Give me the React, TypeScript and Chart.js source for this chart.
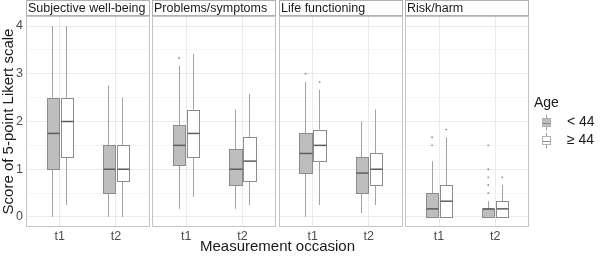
import React, { useEffect, useRef } from 'react';
import { Chart, registerables } from 'chart.js';

Chart.register(...registerables);

// ---------- data ----------
const panels = ['Subjective well-being', 'Problems/symptoms', 'Life functioning', 'Risk/harm'];
const occasions = ['t1', 't2'];
const groups = ['< 44', '≥ 44'];
// cells in order: panel1 t1, panel1 t2, panel2 t1, panel2 t2, ...
const youngLow = [0, 0, 0.17, 0.17, 0, 0.08, 0, 0];
const youngQ1 = [1.0, 0.5, 1.08, 0.67, 0.92, 0.5, 0, 0];
const youngMedian = [1.75, 1.0, 1.5, 1.0, 1.33, 0.92, 0.17, 0.17];
const youngQ3 = [2.5, 1.5, 1.92, 1.42, 1.75, 1.25, 0.5, 0.17];
const youngHigh = [4.0, 2.75, 3.17, 2.25, 2.83, 2.0, 1.17, 0.33];
const youngOutlierCell = [2, 4, 6, 6, 7, 7, 7, 7, 7];
const youngOutlierValue = [3.33, 3.0, 1.5, 1.67, 0.5, 0.67, 0.83, 1.0, 1.5];

const oldLow = [0.25, 0, 0.42, 0.25, 0.25, 0.25, 0, 0];
const oldQ1 = [1.25, 0.75, 1.25, 0.75, 1.17, 0.67, 0, 0];
const oldMedian = [2.0, 1.0, 1.75, 1.17, 1.5, 1.0, 0.33, 0.17];
const oldQ3 = [2.5, 1.5, 2.25, 1.67, 1.83, 1.33, 0.67, 0.33];
const oldHigh = [4.0, 2.5, 3.42, 2.58, 2.67, 2.25, 1.67, 0.67];
const oldOutlierCell = [4, 6, 7];
const oldOutlierValue = [2.83, 1.83, 0.83];

const yTickValues = [0, 0.5, 1, 1.5, 2, 2.5, 3, 3.5, 4];

// ---------- layout (x units) ----------
const PANEL_W = 2.2;
const GAP = 0.05;
const EXPAND = 0.6;
const DODGE = 0.125;
const HALF_W = 0.11;
const FONT = '"Liberation Sans", Arial, sans-serif';

const panelStart = (p: number) => p * (PANEL_W + GAP);
const cellX = (cell: number) => panelStart(Math.floor(cell / 2)) + EXPAND + (cell % 2);

const series = [
  { name: groups[0], low: youngLow, q1: youngQ1, med: youngMedian, q3: youngQ3, high: youngHigh, outCell: youngOutlierCell, outVal: youngOutlierValue, fill: '#bebebe', offset: -DODGE },
  { name: groups[1], low: oldLow, q1: oldQ1, med: oldMedian, q3: oldQ3, high: oldHigh, outCell: oldOutlierCell, outVal: oldOutlierValue, fill: '#ffffff', offset: DODGE },
];

const EDGE = '#8c8c8c';
const MEDIAN = '#5e5e5e';
const WHISKER = '#a3a3a3';

const snap = (v: number) => Math.round(v) + 0.5;

const panelPlugin = {
  id: 'panels',
  beforeDatasetsDraw(chart: any) {
    const { ctx, chartArea, scales } = chart;
    const xs = scales.x;
    ctx.save();
    ctx.fillStyle = '#ffffff';
    for (let p = 0; p < panels.length - 1; p++) {
      const r = xs.getPixelForValue(panelStart(p) + PANEL_W);
      const l = xs.getPixelForValue(panelStart(p + 1));
      ctx.fillRect(r, chartArea.top, l - r, chartArea.bottom - chartArea.top);
    }
    ctx.lineWidth = 1;
    for (let p = 0; p < panels.length; p++) {
      const l = Math.round(xs.getPixelForValue(panelStart(p)));
      const r = Math.round(xs.getPixelForValue(panelStart(p) + PANEL_W));
      ctx.strokeStyle = '#c4c4c4';
      ctx.strokeRect(l + 0.5, Math.round(chartArea.top) + 0.5, r - l - 1, Math.round(chartArea.bottom - chartArea.top) - 1);
      ctx.fillStyle = '#ffffff';
      ctx.fillRect(l, 0, r - l, chartArea.top);
      ctx.strokeStyle = '#b0b0b0';
      ctx.strokeRect(l + 0.5, 0.5, r - l - 1, Math.round(chartArea.top) - 1);
      ctx.fillStyle = '#1a1a1a';
      ctx.font = `12.5px ${FONT}`;
      ctx.textAlign = 'left';
      ctx.textBaseline = 'middle';
      ctx.fillText(panels[p], l + 2, chartArea.top / 2 + 0.5);
    }
    ctx.restore();
  },
  afterDatasetsDraw(chart: any) {
    const { ctx, scales } = chart;
    const xs = scales.x;
    const ys = scales.y;
    const hw = xs.getPixelForValue(HALF_W) - xs.getPixelForValue(0);
    ctx.save();
    ctx.lineWidth = 1;
    for (const s of series) {
      for (let c = 0; c < s.med.length; c++) {
        const cx = xs.getPixelForValue(cellX(c) + s.offset);
        const yLow = ys.getPixelForValue(s.low[c]);
        const yQ1 = ys.getPixelForValue(s.q1[c]);
        const yMed = ys.getPixelForValue(s.med[c]);
        const yQ3 = ys.getPixelForValue(s.q3[c]);
        const yHigh = ys.getPixelForValue(s.high[c]);
        const xm = snap(cx - 0.5);
        ctx.strokeStyle = WHISKER;
        ctx.beginPath();
        ctx.moveTo(xm, yHigh);
        ctx.lineTo(xm, yQ3);
        ctx.moveTo(xm, yQ1);
        ctx.lineTo(xm, yLow);
        ctx.stroke();
        const l = snap(cx - hw);
        const r = snap(cx + hw);
        const t = Math.round(yQ3) + 0.5;
        const b = Math.round(yQ1) + 0.5;
        ctx.fillStyle = s.fill;
        ctx.fillRect(l, t, r - l, b - t);
        ctx.strokeStyle = EDGE;
        ctx.strokeRect(l, t, r - l, b - t);
        ctx.strokeStyle = MEDIAN;
        ctx.lineWidth = 1.5;
        ctx.beginPath();
        ctx.moveTo(l, yMed);
        ctx.lineTo(r, yMed);
        ctx.stroke();
        ctx.lineWidth = 1;
      }
    }
    ctx.restore();
  },
  afterDraw(chart: any) {
    const { ctx } = chart;
    ctx.save();
    ctx.font = `14px ${FONT}`;
    ctx.fillStyle = '#1a1a1a';
    ctx.textAlign = 'left';
    ctx.textBaseline = 'middle';
    ctx.fillText('Age', 534, 103);
    const rows = [122.5, 140.5];
    series.forEach((s, i) => {
      const y = rows[i];
      const cx = 546.5;
      ctx.strokeStyle = WHISKER;
      ctx.lineWidth = 1;
      ctx.beginPath();
      ctx.moveTo(cx, y - 8);
      ctx.lineTo(cx, y + 8);
      ctx.stroke();
      ctx.fillStyle = s.fill;
      ctx.fillRect(542.5, y - 4, 8, 8);
      ctx.strokeStyle = '#b0b0b0';
      ctx.strokeRect(542.5, y - 4, 8, 8);
      ctx.strokeStyle = '#8c8c8c';
      ctx.beginPath();
      ctx.moveTo(542.5, Math.round(y) + 0.5);
      ctx.lineTo(550.5, Math.round(y) + 0.5);
      ctx.stroke();
      ctx.fillStyle = '#1a1a1a';
      ctx.font = `14px ${FONT}`;
      ctx.fillText(s.name, 567, y);
    });
    ctx.restore();
  },
};

const tickPositions: number[] = [];
for (let c = 0; c < panels.length * occasions.length; c++) tickPositions.push(cellX(c));

export default function App() {
  const ref = useRef<HTMLCanvasElement>(null);
  useEffect(() => {
    if (!ref.current) return;
    const chart = new Chart(ref.current, {
      type: 'scatter',
      data: {
        datasets: series.map((s) => ({
          label: s.name,
          data: s.outCell.map((c, i) => ({ x: cellX(c) + s.offset, y: s.outVal[i] })),
          pointRadius: 0.9,
          pointHoverRadius: 0.9,
          pointBackgroundColor: '#8c8c8c',
          pointBorderWidth: 0,
        })),
      },
      plugins: [panelPlugin],
      options: {
        responsive: false,
        animation: false,
        events: [],
        layout: { padding: { top: 16, right: 71, left: 0, bottom: 0 } },
        plugins: { legend: { display: false }, tooltip: { enabled: false } },
        scales: {
          x: {
            type: 'linear',
            min: 0,
            max: panelStart(panels.length - 1) + PANEL_W,
            afterBuildTicks: (s: any) => {
              s.ticks = tickPositions.map((v) => ({ value: v }));
            },
            afterFit: (s: any) => {
              s.height = 31;
            },
            ticks: {
              autoSkip: false,
              maxRotation: 0,
              padding: 2,
              color: '#4d4d4d',
              font: { family: FONT, size: 12.5 },
              callback: (_v: any, i: number) => occasions[i % occasions.length],
            },
            grid: { color: '#ebebeb', drawTicks: false },
            border: { display: false },
            title: {
              display: true,
              text: 'Measurement occasion',
              color: '#1a1a1a',
              font: { family: FONT, size: 15 },
              padding: { top: 0, bottom: 2 },
            },
          },
          y: {
            min: -0.21,
            max: 4.21,
            afterBuildTicks: (s: any) => {
              s.ticks = yTickValues.map((v) => ({ value: v }));
            },
            afterFit: (s: any) => {
              s.width = 26;
            },
            ticks: {
              padding: 3,
              color: '#4d4d4d',
              font: { family: FONT, size: 12.5 },
              callback: (v: any) => (Number.isInteger(v) ? String(v) : ''),
            },
            grid: {
              drawTicks: false,
              color: (ctx: any) => (Number.isInteger(ctx.tick?.value) ? '#ebebeb' : '#f5f5f5'),
            },
            border: { display: false },
            title: {
              display: true,
              text: 'Score of 5-point Likert scale',
              color: '#1a1a1a',
              font: { family: FONT, size: 15 },
              padding: { top: 0, bottom: 0 },
            },
          },
        },
      },
    });
    return () => chart.destroy();
  }, []);
  return (
    <div style={{ position: 'fixed', left: 0, top: 0, width: 600, height: 258, background: '#fff' }}>
      <canvas ref={ref} width={600} height={258} />
    </div>
  );
}
